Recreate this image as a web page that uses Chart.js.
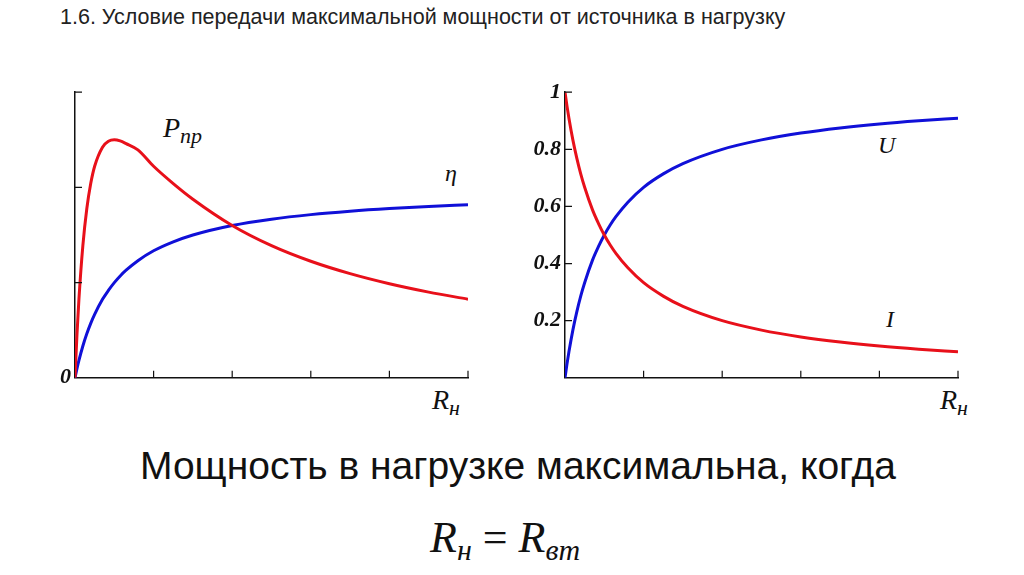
<!DOCTYPE html>
<html><head><meta charset="utf-8">
<script src="https://cdn.jsdelivr.net/npm/chart.js@4"></script>
<style>
body{margin:0;width:1024px;height:575px;background:#fff;position:relative;overflow:hidden;font-family:"Liberation Sans",Arial,sans-serif}
.t{position:absolute;white-space:nowrap}
.m{font-family:"Liberation Serif",serif;font-style:italic;color:#111}
canvas{position:absolute}
</style></head><body>
<div class="t" style="left:60px;top:5px;font-size:21.5px;color:#222">1.6. Условие передачи максимальной мощности от источника в нагрузку</div>
<div class="t m" style="left:163px;top:112px;font-size:28px">P<sub style="font-size:22px;vertical-align:-6px">пр</sub></div>
<div class="t m" style="left:445px;top:160px;font-size:24px">η</div>
<div class="t m" style="left:878px;top:132px;font-size:24px">U</div>
<div class="t m" style="left:886px;top:306px;font-size:24px">I</div>
<div class="t m" style="left:432px;top:384px;font-size:28px">R<sub style="font-size:22px;vertical-align:-6px">н</sub></div>
<div class="t m" style="left:940px;top:384px;font-size:28px">R<sub style="font-size:22px;vertical-align:-6px">н</sub></div>
<div class="t" style="left:140px;top:444px;font-size:39px;color:#111">Мощность в нагрузке максимальна, когда</div>
<div class="t m" style="left:430px;top:512px;font-size:44px;font-style:normal">
<i>R</i><sub style="font-size:30px;vertical-align:-8px"><i>н</i></sub> = <i>R</i><sub style="font-size:30px;vertical-align:-8px"><i>вт</i></sub></div>
<canvas id="c1" style="left:25px;top:75px;width:453px;height:320px" width="453" height="320"></canvas>
<canvas id="c2" style="left:515px;top:75px;width:453px;height:320px" width="453" height="320"></canvas>
<script>
const rLoad = [0, 0.05, 0.1, 0.2, 0.3, 0.4, 0.5, 0.7, 0.85, 1, 1.15, 1.3, 1.6, 2, 2.5, 3, 4, 5, 6, 7, 8, 9, 10];
const power = [0, 0.227, 0.413, 0.694, 0.888, 1.020, 1.111, 1.211, 1.242, 1.25, 1.244, 1.230, 1.197, 1.111, 1.020, 0.938, 0.8, 0.694, 0.612, 0.547, 0.494, 0.45, 0.413];
const efficiency = [0, 0.048, 0.091, 0.167, 0.231, 0.286, 0.333, 0.412, 0.459, 0.5, 0.535, 0.565, 0.615, 0.667, 0.714, 0.75, 0.8, 0.833, 0.857, 0.875, 0.889, 0.9, 0.909];
const voltage = efficiency;
const current = [1, 0.952, 0.909, 0.833, 0.769, 0.714, 0.667, 0.588, 0.541, 0.5, 0.465, 0.435, 0.385, 0.333, 0.286, 0.25, 0.2, 0.167, 0.143, 0.125, 0.111, 0.1, 0.091];
const xTicks = [2, 4, 6, 8, 10];

const RED = '#e8101a', BLUE = '#1010d8';

// tick marks drawn inward from the axes
const innerTicks = {
  id: 'innerTicks',
  afterDraw(chart, args, opts) {
    const { ctx, scales: { x, y } } = chart;
    ctx.save();
    ctx.strokeStyle = '#111';
    ctx.lineWidth = 1.2;
    ctx.beginPath();
    xTicks.forEach(v => {
      const px = x.getPixelForValue(v);
      ctx.moveTo(px, y.bottom); ctx.lineTo(px, y.bottom - 7);
    });
    opts.yTicks.forEach(v => {
      const py = y.getPixelForValue(v);
      ctx.moveTo(x.left, py); ctx.lineTo(x.left + 7, py);
    });
    ctx.stroke();
    ctx.restore();
  }
};

function line(data, color) {
  return {
    data: rLoad.map((r, i) => ({ x: r, y: data[i] })),
    borderColor: color, borderWidth: 3, pointRadius: 0,
    cubicInterpolationMode: 'monotone', fill: false
  };
}

function makeChart(id, datasets, yMax, yTicks, labelFn) {
  new Chart(document.getElementById(id), {
    type: 'line',
    data: { datasets },
    plugins: [innerTicks],
    options: {
      responsive: false, animation: false,
      layout: { padding: { top: 5, right: 10 } },
      plugins: { legend: { display: false }, tooltip: { enabled: false }, innerTicks: { yTicks } },
      scales: {
        x: {
          type: 'linear', min: 0, max: 10,
          grid: { display: false, drawTicks: false },
          border: { color: '#111', width: 1.5 },
          ticks: { display: false },
          afterFit: s => { s.height = 10; }
        },
        y: {
          min: 0, max: yMax,
          grid: { display: false, drawTicks: false },
          border: { color: '#111', width: 1.5 },
          afterBuildTicks: s => { s.ticks = [0, ...yTicks].map(v => ({ value: v })); },
          ticks: {
            callback: labelFn, color: '#111', padding: 4,
            font: { family: 'Liberation Serif', style: 'italic', weight: 'bold', size: 22 }
          },
          afterFit: s => { s.width = 50; }
        }
      }
    }
  });
}

makeChart('c1', [line(power, RED), line(efficiency, BLUE)], 1.5, [0.5, 1, 1.5],
  v => v === 0 ? '0' : '');
makeChart('c2', [line(current, RED), line(voltage, BLUE)], 1, [0.2, 0.4, 0.6, 0.8, 1],
  v => v === 0 ? '' : v === 1 ? '1' : v.toFixed(1));
</script>
</body></html>
